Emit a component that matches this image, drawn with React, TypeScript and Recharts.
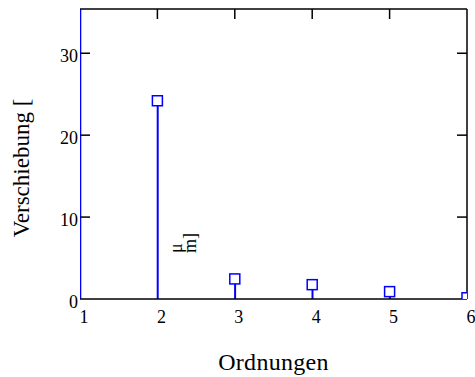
import { ComposedChart, Bar, Scatter, XAxis, YAxis, ReferenceLine } from 'recharts';

// Ordnungen (x) and Verschiebung in µm (y)
const orders = [1, 2, 3, 4, 5, 6];
const shifts = [60, 24.2, 2.45, 1.75, 0.9, 0.15];
const xTicks = [1, 2, 3, 4, 5, 6];
const yTicks = [0, 10, 20, 30];
const xDomain = [1, 6];
const yDomain = [0, 35.4];

const data = orders.map((o, i) => ({ order: o, shift: shifts[i] }));

const W = 475;
const H = 377;
const PLOT_LEFT = 80;
const PLOT_RIGHT = 467;
const PLOT_TOP = 9;
const PLOT_BOTTOM = 299;
const FONT = 'Liberation Serif';
const BLUE = '#0000ff';

const YTick = (props: any) => {
  const { y, payload } = props;
  const v = payload.value;
  return (
    <g>
      {v !== 0 && (
        <>
          <line x1={PLOT_LEFT} x2={PLOT_LEFT + 10} y1={y} y2={y} stroke="#000" strokeWidth={1.5} />
          <line x1={PLOT_RIGHT - 10} x2={PLOT_RIGHT} y1={y} y2={y} stroke="#000" strokeWidth={1.5} />
        </>
      )}
      <text x={PLOT_LEFT - 2} y={y + 9} textAnchor="end" fontFamily={FONT} fontSize={18} fill="#000">
        {v}
      </text>
    </g>
  );
};

const XTick = (props: any) => {
  const { x, payload } = props;
  const v = payload.value;
  return (
    <g>
      {v !== 1 && v !== 6 && (
        <line x1={x} x2={x} y1={PLOT_TOP} y2={PLOT_TOP + 10} stroke="#000" strokeWidth={1.5} />
      )}
      <text x={x + 4} y={PLOT_BOTTOM + 24} textAnchor="middle" fontFamily={FONT} fontSize={18} fill="#000">
        {v}
      </text>
    </g>
  );
};

const Marker = (props: any) => {
  const { cx, cy } = props;
  return <rect x={cx - 5} y={cy - 5} width={10} height={10} fill="#fff" stroke={BLUE} strokeWidth={1.5} />;
};

export default function App() {
  return (
    <div style={{ position: 'absolute', left: 0, top: 0, width: W, height: H, background: '#fff' }}>
      <ComposedChart
        width={W}
        height={H}
        data={data}
        margin={{ top: PLOT_TOP, right: W - PLOT_RIGHT, left: 0, bottom: 0 }}
      >
        <XAxis
          dataKey="order"
          type="number"
          domain={xDomain}
          ticks={xTicks}
          allowDataOverflow
          height={H - PLOT_BOTTOM - PLOT_TOP + 9}
          tickLine={false}
          axisLine={{ stroke: '#000', strokeWidth: 1.5 }}
          tick={<XTick />}
          interval={0}
        />
        <YAxis
          type="number"
          domain={yDomain}
          ticks={yTicks}
          allowDataOverflow
          width={PLOT_LEFT}
          tickLine={false}
          axisLine={false}
          tick={<YTick />}
          interval={0}
        />
        <ReferenceLine y={yDomain[1]} stroke="#000" strokeWidth={1.5} />
        <ReferenceLine x={xDomain[1]} stroke="#000" strokeWidth={1.5} />
        <Bar dataKey="shift" barSize={2} fill={BLUE} isAnimationActive={false} />
        <Scatter dataKey="shift" shape={<Marker />} isAnimationActive={false} />
      </ComposedChart>
      <svg width={W} height={H} style={{ position: 'absolute', left: 0, top: 0, pointerEvents: 'none' }}>
        <text
          transform="translate(29 168) rotate(-90)"
          textAnchor="middle"
          fontFamily={FONT}
          fontSize={23}
          fill="#000"
        >
          Verschiebung [
        </text>
        <text transform="translate(182 253) rotate(-90)" fontFamily={FONT} fontSize={18} fill="#000">
          μ
        </text>
        <text transform="translate(196 253) rotate(-90)" fontFamily={FONT} fontSize={18} fill="#000">
          m]
        </text>
        <text x={273.5} y={370} textAnchor="middle" fontFamily={FONT} fontSize={24} letterSpacing={0.3} fill="#000">
          Ordnungen
        </text>
      </svg>
    </div>
  );
}
